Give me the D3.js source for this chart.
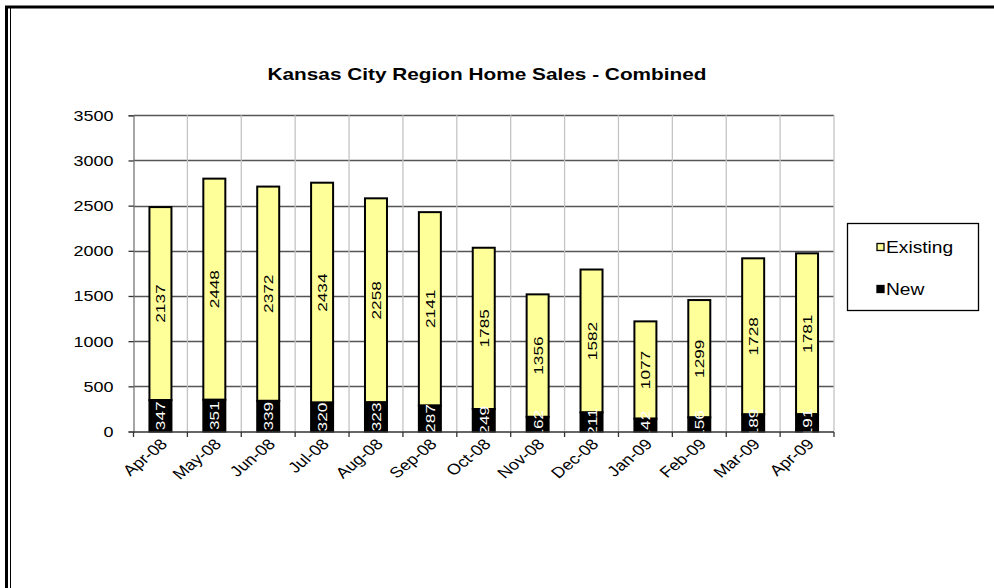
<!DOCTYPE html>
<html lang="en">
<head>
<meta charset="utf-8">
<title>Kansas City Region Home Sales - Combined</title>
<script src="https://cdnjs.cloudflare.com/ajax/libs/d3/7.8.5/d3.min.js"></script>
<style>
  body { margin: 0; background: #fff; }
  text { font-family: "Liberation Sans", Arial, sans-serif; }
</style>
</head>
<body>
<script>
var months = ["Apr-08", "May-08", "Jun-08", "Jul-08", "Aug-08", "Sep-08", "Oct-08",
              "Nov-08", "Dec-08", "Jan-09", "Feb-09", "Mar-09", "Apr-09"];
var existing = [2137, 2448, 2372, 2434, 2258, 2141, 1785, 1356, 1582, 1077, 1299, 1728, 1781];
var newSales = [347, 351, 339, 320, 323, 287, 249, 162, 211, 142, 156, 189, 191];
var yTicks = [0, 500, 1000, 1500, 2000, 2500, 3000, 3500];

var width = 994, height = 588;
var stretch = 1.2; // text in the picture is drawn a bit wide

var svg = d3.select("body").append("svg")
    .attr("width", width)
    .attr("height", height);

// outer frame (double line on the left)
svg.append("line").attr("x1", 5).attr("x2", width).attr("y1", 7).attr("y2", 7)
    .attr("stroke", "#000").attr("stroke-width", 3);
svg.append("line").attr("x1", 6.5).attr("x2", 6.5).attr("y1", 6).attr("y2", height)
    .attr("stroke", "#000").attr("stroke-width", 3);
svg.append("line").attr("x1", 10.5).attr("x2", 10.5).attr("y1", 8).attr("y2", height)
    .attr("stroke", "#000").attr("stroke-width", 1);

svg.append("text")
    .attr("transform", "translate(487,80) scale(1.3,1)")
    .attr("text-anchor", "middle")
    .attr("font-size", 16)
    .attr("font-weight", "bold")
    .text("Kansas City Region Home Sales - Combined");

var x = d3.scaleBand().domain(months).range([133.5, 834]);
var y = d3.scaleLinear().domain([0, 3500]).range([431.5, 115.3]);
var barW = 22;

// horizontal gridlines
svg.selectAll(".hgrid").data(yTicks.slice(1)).enter().append("line")
    .attr("x1", x.range()[0]).attr("x2", x.range()[1])
    .attr("y1", function(d) { return Math.round(y(d)) + 0.5; })
    .attr("y2", function(d) { return Math.round(y(d)) + 0.5; })
    .attr("stroke", "#555").attr("stroke-width", 1.3);

// vertical gridlines between categories
svg.selectAll(".vgrid").data(months).enter().append("line")
    .attr("x1", function(d) { return x(d) + x.bandwidth(); })
    .attr("x2", function(d) { return x(d) + x.bandwidth(); })
    .attr("y1", y(3500)).attr("y2", y(0))
    .attr("stroke", "#c4c4c4").attr("stroke-width", 1.3);

// y axis
var yAxis = svg.append("g").attr("transform", "translate(133.5,0)")
    .call(d3.axisLeft(y).tickValues(yTicks).tickSize(5).tickPadding(0).tickFormat(d3.format("d")));
yAxis.select(".domain").attr("stroke", "#777").attr("stroke-width", 1.3);
yAxis.selectAll(".tick line").attr("stroke", "#333").attr("stroke-width", 1.3);
yAxis.selectAll(".tick text").remove();
yAxis.selectAll(".tick").append("text")
    .attr("transform", "translate(-20,5) scale(" + stretch + ",1)")
    .attr("text-anchor", "end")
    .attr("font-size", 15)
    .attr("fill", "#000")
    .text(function(d) { return d; });

// bars
var groups = svg.selectAll(".bar").data(months).enter().append("g").attr("class", "bar");

groups.append("rect")
    .attr("x", function(d) { return x(d) + x.bandwidth() / 2 - barW / 2; })
    .attr("width", barW)
    .attr("y", function(d, i) { return y(newSales[i] + existing[i]); })
    .attr("height", function(d, i) { return y(newSales[i]) - y(newSales[i] + existing[i]); })
    .attr("fill", "#ffff99").attr("stroke", "#000").attr("stroke-width", 2);

groups.append("rect")
    .attr("x", function(d) { return x(d) + x.bandwidth() / 2 - barW / 2; })
    .attr("width", barW)
    .attr("y", function(d, i) { return y(newSales[i]); })
    .attr("height", function(d, i) { return y(0) - y(newSales[i]); })
    .attr("fill", "#000").attr("stroke", "#000").attr("stroke-width", 2);

// value labels
groups.append("text")
    .attr("transform", function(d, i) {
        var cx = x(d) + x.bandwidth() / 2, cy = y(newSales[i] + existing[i] / 2);
        return "translate(" + (cx + 5) + "," + cy + ") rotate(-90) scale(1.15,0.9)";
    })
    .attr("text-anchor", "middle").attr("font-size", 15).attr("fill", "#000")
    .text(function(d, i) { return existing[i]; });

groups.append("text")
    .attr("transform", function(d, i) {
        var cx = x(d) + x.bandwidth() / 2, cy = y(newSales[i] / 2);
        return "translate(" + (cx + 5) + "," + cy + ") rotate(-90) scale(1.15,0.9)";
    })
    .attr("text-anchor", "middle").attr("font-size", 15).attr("fill", "#fff")
    .text(function(d, i) { return newSales[i]; });

// x axis
svg.append("line").attr("x1", x.range()[0]).attr("x2", x.range()[1])
    .attr("y1", 432).attr("y2", 432).attr("stroke", "#333").attr("stroke-width", 1.5);
svg.selectAll(".xtick").data([""].concat(months)).enter().append("line")
    .attr("x1", function(d, i) { return x.range()[0] + i * x.bandwidth(); })
    .attr("x2", function(d, i) { return x.range()[0] + i * x.bandwidth(); })
    .attr("y1", 432).attr("y2", 437).attr("stroke", "#333").attr("stroke-width", 1.3);
svg.selectAll(".xlabel").data(months).enter().append("text")
    .attr("transform", function(d) {
        return "translate(" + (x(d) + x.bandwidth() / 2 + 8) + ",445) scale(" + stretch + ",1) rotate(-45)";
    })
    .attr("text-anchor", "end").attr("font-size", 15).attr("fill", "#000")
    .text(function(d) { return d; });

// legend
var legend = svg.append("g");
legend.append("rect").attr("x", 847.5).attr("y", 223.5).attr("width", 131).attr("height", 87)
    .attr("fill", "#fff").attr("stroke", "#000").attr("stroke-width", 1.3);
var legendItems = [{ name: "Existing", fill: "#ffff99" }, { name: "New", fill: "#000" }];
legend.selectAll(".item").data(legendItems).enter().append("rect")
    .attr("x", 877).attr("y", function(d, i) { return 243.5 + i * 42; })
    .attr("width", 7).attr("height", 7)
    .attr("fill", function(d) { return d.fill; }).attr("stroke", "#000").attr("stroke-width", 1.3);
legend.selectAll(".label").data(legendItems).enter().append("text")
    .attr("transform", function(d, i) { return "translate(886," + (253 + i * 42) + ") scale(" + stretch + ",1)"; })
    .attr("font-size", 16).attr("fill", "#000")
    .text(function(d) { return d.name; });
</script>
</body>
</html>
